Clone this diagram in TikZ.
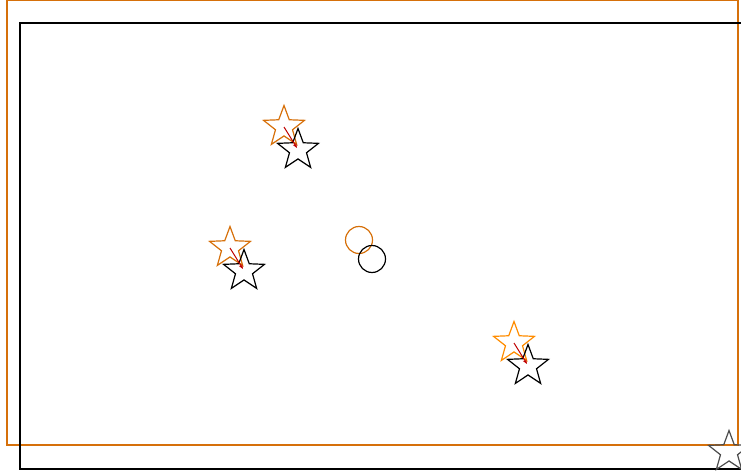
\documentclass[tikz,border=0pt]{standalone}
\usetikzlibrary{shapes.geometric,arrows.meta}

\definecolor{predorange}{RGB}{214,112,10}
\definecolor{brightorange}{RGB}{255,140,0}

\begin{document}
\begin{tikzpicture}[
  x=1pt, y=-1pt,
  starmark/.style={star, star points=5, star point ratio=2.4, minimum size=43pt, inner sep=0pt, draw, line width=1.2pt},
  ringmark/.style={circle, minimum size=27pt, inner sep=0pt, draw, line width=1.2pt},
  displace/.style={-{Stealth[length=5pt,width=4pt]}, red!75!black, line width=1pt},
  frame/.style={draw, line width=1.2pt},
]
\useasboundingbox (0,0) rectangle (741,476);

% === Frames ===
\draw[frame, predorange] (7,0) rectangle (738,445);
\draw[frame, black] (20,23) rectangle (751,469);

% === Predicted (orange) and actual (black) positions ===
\node[starmark, predorange] (p1) at (284,127) {};
\node[starmark, black] (a1) at (298,150) {};
\node[starmark, predorange] (p2) at (230,248) {};
\node[starmark, black] (a2) at (244,271) {};
\node[starmark, brightorange] (p3) at (514,343) {};
\node[starmark, black] (a3) at (528,366) {};

\node[ringmark, predorange] (pc) at (359,240) {};
\node[ringmark, black] (ac) at (372,259) {};

\node[starmark, black!70] (g) at (729,452) {};

% === Displacements ===
\draw[displace] (p1.center) -- ([shift={(-1,-2)}]a1.center);
\draw[displace] (p2.center) -- ([shift={(-1,-2)}]a2.center);
\draw[displace] (p3.center) -- ([shift={(-1,-2)}]a3.center);

\end{tikzpicture}
\end{document}
